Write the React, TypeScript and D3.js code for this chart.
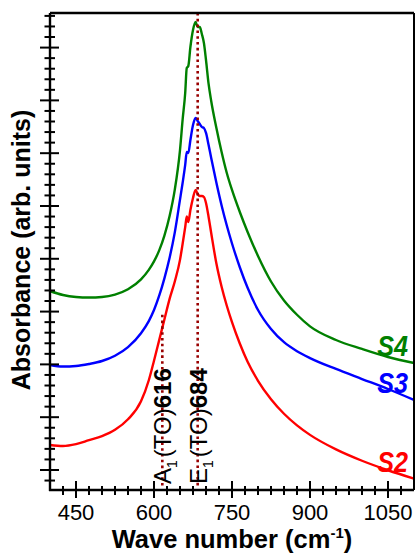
import React from 'react';
import * as d3 from 'd3';

// Wave numbers (cm^-1) at which the spectra are sampled
const wavenumbers = [
  400, 425, 450, 475, 500, 525, 550, 575, 590, 600, 610, 620, 630, 640, 650, 655,
  660, 663, 666, 670, 675, 680, 684, 688, 692, 696, 700, 705, 710, 720, 730, 740,
  750, 765, 780, 800, 825, 850, 875, 900, 950, 1000, 1050, 1100,
];

// Absorbance (arb. units, vertically offset) for each sample
const absS2 = [
  0.473, 0.455, 0.49, 0.565, 0.64, 0.76, 0.96, 1.3, 1.7, 2.07, 2.46, 2.85,
  3.24, 3.57, 3.98, 4.28, 4.6, 4.8, 4.697, 4.924, 5.152, 5.303, 5.227, 5.189,
  5.189, 5.17, 5.057, 4.792, 4.489, 3.91, 3.47, 3.11, 2.8, 2.395, 2.05, 1.69,
  1.34, 1.065, 0.845, 0.665, 0.39, 0.175, -0.005, -0.165,
];
const absS3 = [
  1.989, 1.96, 1.97, 2.008, 2.064, 2.164, 2.327, 2.59, 2.82, 3.03, 3.3, 3.63,
  4.02, 4.5, 5.12, 5.436, 5.777, 6.023, 6.004, 6.25, 6.534, 6.667, 6.61, 6.553,
  6.496, 6.477, 6.383, 6.155, 5.909, 5.44, 5.01, 4.63, 4.29, 3.84, 3.45, 3.03,
  2.67, 2.42, 2.25, 2.12, 1.913, 1.723, 1.534, 1.326,
];
const absS4 = [
  3.39, 3.314, 3.277, 3.267, 3.277, 3.322, 3.422, 3.61, 3.79, 3.95, 4.16, 4.44,
  4.81, 5.31, 6.06, 6.63, 7.14, 7.614, 7.652, 8.011, 8.333, 8.485, 8.39, 8.39,
  8.258, 8.087, 7.765, 7.311, 6.989, 6.477, 6.023, 5.625, 5.303, 4.886, 4.508, 4.053,
  3.57, 3.21, 2.94, 2.72, 2.462, 2.292, 2.14, 2.027,
];

const seriesNames = ['S2', 'S3', 'S4'];
const seriesValues = [absS2, absS3, absS4];
const seriesColors = ['#ff0000', '#0000ff', '#008000'];

const xTickLabels = [450, 600, 750, 900, 1050];

// Phonon modes marked by dotted lines
const modeSymbols = ['A', 'E'];
const modeSubscripts = ['1', '1'];
const modeTypes = ['(TO)', '(TO)'];
const modeFrequencies = [616, 684];
const modeLineTops = [2.94, 8.655];

const W = 416;
const H = 554;
const left = 50;
const right = 414;
const top = 13;
const bottom = 490;

const FONT = '"Liberation Sans", Arial, Helvetica, sans-serif';

export default function App() {
  const x = d3.scaleLinear().domain([400, 1100]).range([left, right]);
  const y = d3.scaleLinear().domain([-0.379, 8.655]).range([bottom, top]);

  const line = d3
    .line<number>()
    .x((_, i) => x(wavenumbers[i]))
    .y((d) => y(d))
    .curve(d3.curveMonotoneX);

  const xMinor = d3.range(425, 1100, 25);
  const yMinor = d3.range(-0.2, 8.65, 0.2).map((v) => Math.round(v * 10) / 10);

  return (
    <svg
      width={W}
      height={H}
      style={{ position: 'absolute', left: 0, top: 0, background: '#fff' }}
      fontFamily={FONT}
    >
      <rect x={0} y={0} width={W} height={H} fill="#fff" />

      {/* spectra */}
      {seriesValues.map((vals, i) => (
        <path
          key={seriesNames[i]}
          d={line(vals) || ''}
          fill="none"
          stroke={seriesColors[i]}
          strokeWidth={2.4}
          strokeLinejoin="round"
        />
      ))}

      {/* mode markers */}
      {modeFrequencies.map((f, i) => (
        <g key={f}>
          <line
            x1={x(f)}
            x2={x(f)}
            y1={y(modeLineTops[i])}
            y2={bottom - 3}
            stroke="#990000"
            strokeWidth={2.6}
            strokeDasharray="2.6 3.2"
          />
          <text
            transform={`translate(${x(f) + 9},${bottom - 6}) rotate(-90)`}
            fontSize={24}
            fill="#000"
          >
            <tspan>{modeSymbols[i]}</tspan>
            <tspan fontSize={14} dy={6}>
              {modeSubscripts[i]}
            </tspan>
            <tspan dy={-6} dx={3}>
              {modeTypes[i]}
            </tspan>
            <tspan fontWeight="bold">{f}</tspan>
          </text>
        </g>
      ))}

      {/* frame */}
      <line x1={left} x2={right} y1={top} y2={top} stroke="#000" strokeWidth={2.4} />
      <line x1={right} x2={right} y1={top} y2={bottom} stroke="#000" strokeWidth={2} />
      <line x1={left} x2={left} y1={top} y2={bottom + 1} stroke="#000" strokeWidth={2.4} />
      <line x1={left - 1} x2={right} y1={bottom} y2={bottom} stroke="#000" strokeWidth={2.4} />

      {/* x ticks */}
      {xMinor.map((v) => {
        const major = xTickLabels.includes(v);
        return (
          <line
            key={v}
            x1={x(v)}
            x2={x(v)}
            y1={major ? bottom - 9 : bottom - 4}
            y2={major ? bottom + 8 : bottom + 5}
            stroke="#000"
            strokeWidth={2}
          />
        );
      })}
      {xTickLabels.map((v) => (
        <text key={v} x={x(v)} y={520} fontSize={22} textAnchor="middle" fill="#000">
          {v}
        </text>
      ))}

      {/* y ticks */}
      {yMinor.map((v) => {
        const major = Math.abs(v - Math.round(v)) < 1e-6;
        return (
          <line
            key={v}
            x1={major ? left - 10 : left - 5.5}
            x2={major ? left + 9 : left + 5}
            y1={y(v)}
            y2={y(v)}
            stroke="#000"
            strokeWidth={2}
          />
        );
      })}

      {/* series labels */}
      {seriesNames.map((name, i) => {
        const vals = seriesValues[i];
        const ly = y(vals[vals.length - 1]) - 7;
        return (
          <text
            key={name}
            transform={`translate(408,${ly}) scale(0.84,1)`}
            fontSize={30}
            fontWeight="bold"
            fontStyle="italic"
            textAnchor="end"
            fill={seriesColors[i]}
          >
            {name}
          </text>
        );
      })}

      {/* axis titles */}
      <text x={232} y={548} fontSize={25.5} fontWeight="bold" textAnchor="middle" fill="#000">
        Wave number (cm
        <tspan fontSize={15} dy={-10}>
          -1
        </tspan>
        <tspan dy={10}>)</tspan>
      </text>
      <text
        transform={`translate(30,250) rotate(-90)`}
        fontSize={25}
        fontWeight="bold"
        textAnchor="middle"
        fill="#000"
      >
        Absorbance (arb. units)
      </text>
    </svg>
  );
}
